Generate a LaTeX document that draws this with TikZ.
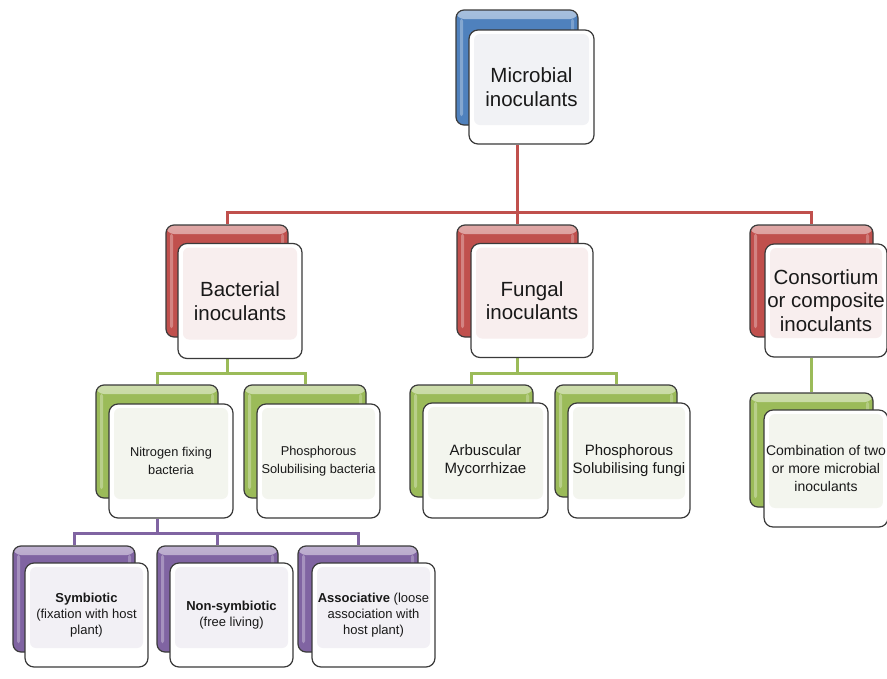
\documentclass[tikz,border=0pt]{standalone}
\usepackage{fontspec}
\setmainfont{Liberation Sans}
\usetikzlibrary{calc,backgrounds}
\definecolor{cblue}{HTML}{4F81BD}
\definecolor{cred}{HTML}{C0504D}
\definecolor{cgreen}{HTML}{9BBB59}
\definecolor{cpurple}{HTML}{8064A2}
\definecolor{bord}{HTML}{3A3A3A}
\definecolor{tblue}{HTML}{F1F2F5}
\definecolor{tred}{HTML}{F8EEEE}
\definecolor{tgreen}{HTML}{F3F5EE}
\definecolor{tpurple}{HTML}{F2F0F5}
\tikzset{
  backbox/.style={draw=bord, line width=1.2pt, rounded corners=8pt, fill=#1, inner sep=0pt,
    path picture={
      \shade[top color=#1!50!white, bottom color=#1]
        (path picture bounding box.north west) rectangle ($(path picture bounding box.north east)+(0pt,-9pt)$);
      \fill[white, opacity=0.3, rounded corners=2pt]
        ($(path picture bounding box.north west)+(4pt,-9pt)$) rectangle ($(path picture bounding box.south west)+(7pt,9pt)$);
      \fill[white, opacity=0.25, rounded corners=2pt]
        ($(path picture bounding box.north east)+(-7pt,-9pt)$) rectangle ($(path picture bounding box.south east)+(-4pt,9pt)$);
    }},
  frontbox/.style={draw=bord, line width=1.2pt, rounded corners=9pt, fill=white, inner sep=2pt,
    align=center, text=black!90,
    path picture={
      \fill[#1, rounded corners=6pt]
        ($(path picture bounding box.north west)+(5pt,-4pt)$) rectangle ($(path picture bounding box.south east)+(-5pt,19pt)$);
    }},
  sz/.style 2 args={minimum width=#1, minimum height=#2},
  conn/.style={line width=3pt, draw=#1},
  bigtext/.style={font=\fontsize{20.5}{23.5}\selectfont},
  smalltext/.style={font=\fontsize{12.8}{18.5}\selectfont},
  midtext/.style={font=\fontsize{15}{18}\selectfont},
  combtext/.style={font=\fontsize{14}{18}\selectfont},
  purtext/.style={font=\fontsize{13}{16}\selectfont},
}
\begin{document}
\begin{tikzpicture}[x=1pt,y=1pt]
\useasboundingbox (0,0) rectangle (887,-678);
% level 0
\node[backbox=cblue, sz={122}{115}] (topb) at (517,-67.5) {};
\node[frontbox=tblue, sz={125}{114}, bigtext] (topf) at (531.5,-87) {Microbial\\inoculants};
% level 1
\node[backbox=cred, sz={122}{112}] (bactb) at (227,-281) {};
\node[frontbox=tred, sz={124}{115}, bigtext] (bactf) at (240,-301) {Bacterial\\inoculants};
\node[backbox=cred, sz={121}{112}] (fungb) at (517.5,-281) {};
\node[frontbox=tred, sz={122}{114}, bigtext] (fungf) at (532,-300.5) {Fungal\\inoculants};
\node[backbox=cred, sz={123}{112}] (consb) at (811.5,-281) {};
\node[frontbox=tred, sz={122}{113}, bigtext] (consf) at (826,-300.5) {Consortium\\or composite\\inoculants};
% level 2
\node[backbox=cgreen, sz={122}{113}] (nitb) at (157,-441.5) {};
\node[frontbox=tgreen, sz={124}{114}, smalltext] (nitf) at (171,-461) {Nitrogen fixing\\bacteria};
\node[backbox=cgreen, sz={122}{113}] (phbb) at (305,-441.5) {};
\node[frontbox=tgreen, sz={123}{114}, smalltext] (phbf) at (318.5,-461) {Phosphorous\\Solubilising bacteria};
\node[backbox=cgreen, sz={123}{112}] (arbb) at (471.5,-441) {};
\node[frontbox=tgreen, sz={125}{115}, midtext] (arbf) at (485.5,-460.5) {Arbuscular\\Mycorrhizae};
\node[backbox=cgreen, sz={122}{112}] (phfb) at (616,-441) {};
\node[frontbox=tgreen, sz={122}{115}, midtext] (phff) at (629,-460.5) {Phosphorous\\Solubilising fungi};
\node[backbox=cgreen, sz={123}{114}] (combb) at (811.5,-450) {};
\node[frontbox=tgreen, sz={122}{117}, combtext] (combf) at (826,-468.5) {Combination of two\\or more microbial\\inoculants};
% level 3
\node[backbox=cpurple, sz={122}{106}] (symb) at (74,-599) {};
\node[frontbox=tpurple, sz={123}{104}, purtext] (symf) at (86.5,-615) {\textbf{Symbiotic}\\(fixation with host\\plant)};
\node[backbox=cpurple, sz={121}{106}] (nonb) at (217.5,-599) {};
\node[frontbox=tpurple, sz={123}{104}, purtext] (nonf) at (231.5,-615) {\textbf{Non-symbiotic}\\(free living)};
\node[backbox=cpurple, sz={120}{106}] (assb) at (358,-599) {};
\node[frontbox=tpurple, sz={123}{104}, purtext] (assf) at (373.5,-615) {\textbf{Associative} (loose\\association with\\host plant)};
% connectors
\coordinate (rbar) at (0,-212);
\coordinate (gbar) at (0,-373);
\coordinate (pbar) at (0,-533);
\begin{scope}[on background layer]
\draw[conn=cred] (topb.center |- topf.south) -- (topb.center |- rbar);
\draw[conn=cred] (bactb.north) -- (bactb.north |- rbar) -- (consb.north |- rbar) -- (consb.north);
\draw[conn=cred] (fungb.north) -- (fungb.north |- rbar);
\draw[conn=cgreen] (bactb.center |- bactf.south) -- (bactb.center |- gbar);
\draw[conn=cgreen] (nitb.north) -- (nitb.north |- gbar) -- (phbb.north |- gbar) -- (phbb.north);
\draw[conn=cgreen] (fungb.center |- fungf.south) -- (fungb.center |- gbar);
\draw[conn=cgreen] (arbb.north) -- (arbb.north |- gbar) -- (phfb.north |- gbar) -- (phfb.north);
\draw[conn=cgreen] (consb.center |- consf.south) -- (combb.north);
\draw[conn=cpurple] (nitb.center |- nitf.south) -- (nitb.center |- pbar);
\draw[conn=cpurple] (symb.north) -- (symb.north |- pbar) -- (assb.north |- pbar) -- (assb.north);
\draw[conn=cpurple] (nonb.north) -- (nonb.north |- pbar);
\end{scope}
\end{tikzpicture}
\end{document}
